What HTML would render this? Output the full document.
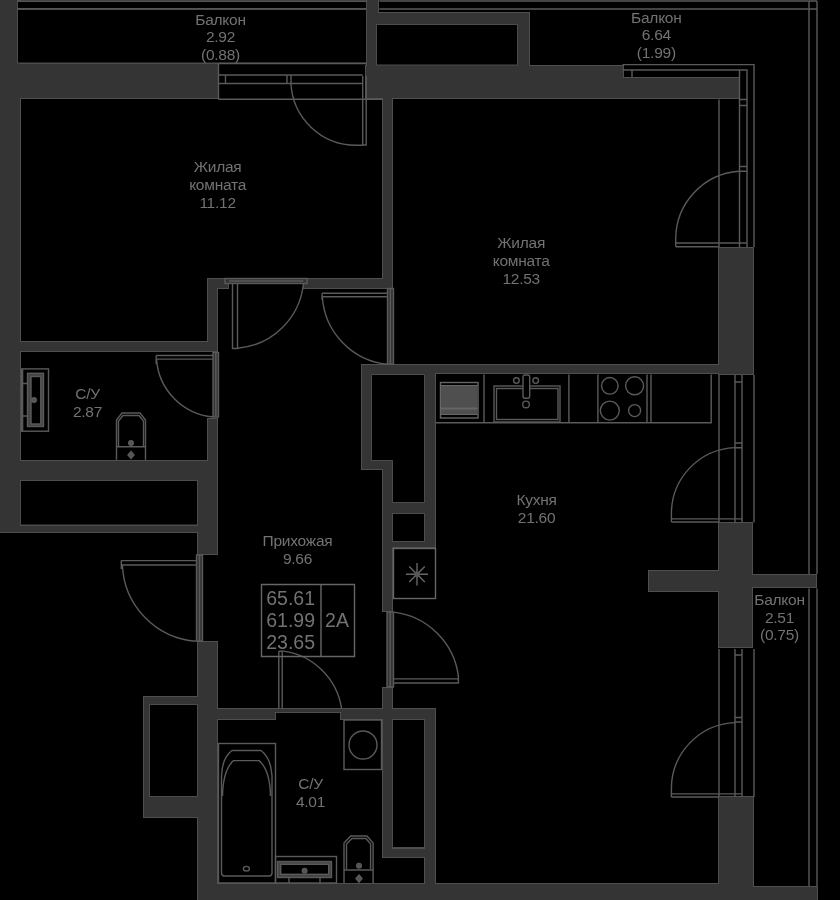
<!DOCTYPE html>
<html><head><meta charset="utf-8">
<style>
html,body{margin:0;padding:0;background:#000;width:840px;height:900px;overflow:hidden}
svg{display:block;will-change:transform}
text{font-family:"Liberation Sans",sans-serif;fill:#727272;font-size:15.5px;letter-spacing:-0.25px;text-anchor:middle}
text.big{font-size:19.5px;letter-spacing:0}
text.end{text-anchor:end}
.w{fill:#343434;stroke:#555;stroke-width:1}
.h{fill:#000;stroke:#4c4c4c;stroke-width:1}
.l{fill:none;stroke:#5a5a5a;stroke-width:1.4}
.lt{fill:none;stroke:#666;stroke-width:1}
</style></head><body>
<svg width="840" height="900" viewBox="0 0 840 900">
<rect x="0" y="0" width="840" height="900" fill="#000"/>
<defs>
<g id="walls">
<rect x="-4" y="-4" width="24" height="536"/>
<rect x="-4" y="64" width="222" height="34"/>
<rect x="367" y="-4" width="11" height="18"/>
<rect x="367" y="13" width="162" height="85"/>
<rect x="366" y="66" width="257" height="32"/>
<rect x="601" y="78" width="138" height="20"/>
<rect x="383" y="96" width="9" height="192"/>
<rect x="208" y="279" width="20" height="9"/>
<rect x="304" y="279" width="88" height="9"/>
<rect x="208" y="279" width="9" height="72"/>
<rect x="-4" y="342" width="221" height="9"/>
<rect x="208" y="419" width="9" height="63"/>
<rect x="-4" y="461" width="221" height="19"/>
<rect x="-4" y="526" width="221" height="6"/>
<rect x="198" y="480" width="19" height="74"/>
<rect x="198" y="642" width="19" height="262"/>
<rect x="198" y="884" width="521" height="20"/>
<rect x="719" y="797" width="34" height="107"/>
<rect x="741" y="887" width="76" height="17"/>
<rect x="144" y="697" width="54" height="120"/>
<rect x="719" y="248" width="34" height="126"/>
<rect x="362" y="365" width="357" height="8"/>
<rect x="362" y="365" width="73" height="104"/>
<rect x="383" y="365" width="52" height="182"/>
<rect x="383" y="547" width="9" height="64"/>
<rect x="719" y="523" width="33" height="124"/>
<rect x="649" y="571" width="70" height="20"/>
<rect x="752" y="575" width="64" height="12"/>
<rect x="217" y="709" width="58" height="10"/>
<rect x="275" y="709" width="66" height="3"/>
<rect x="341" y="709" width="94" height="10"/>
<rect x="383" y="688" width="9" height="169"/>
<rect x="383" y="849" width="52" height="8"/>
<rect x="425" y="709" width="10" height="175"/>
</g>
</defs>
<use href="#walls" fill="#4f4f4f" stroke="#4f4f4f" stroke-width="2"/>
<use href="#walls" fill="#343434"/>
<!-- HOLES -->
<g class="h">
<rect x="17.5" y="1.5" width="349" height="7"/>
<rect x="17.5" y="9" width="349" height="54"/>
<rect x="376.5" y="24.5" width="141" height="40.5"/>
<rect x="20.5" y="480.5" width="177" height="44.5"/>
<rect x="149.5" y="704.5" width="48" height="92"/>
<path d="M371.5 374.5H424.5V502.5H392.5V460.5H371.5Z"/>
<rect x="392.5" y="513.5" width="32" height="28"/>
<rect x="392.5" y="719.5" width="32" height="128"/>
</g>
<!-- LINES -->
<g class="l">
<!-- railings -->
<path d="M17 1H366.5M379.4 1H817M17 9H366.5M379.4 9H817M809 1V574M817 1V574M809 588.5V886M817 588.5V886"/>
<path d="M622.5 64.6H754V247M754 375V522.5M754 649V797M622.5 70H747V247M632 70V77M739.5 70V247M719 99.5V247M739.5 99.5H747M739.5 105.5H747M739.5 166.5H747M739.5 171.3H747"/>
<path d="M719 375V522M735 375V522M742 375V522M735 382H742M735 443H742M735 447.7H742"/>
<path d="M719 649V797M735 649V797M742 649V797M735 655H742M735 717.5H742M735 722H742"/>
<!-- window balcony 1 -->
<path d="M218.5 63.5H366.5M218.5 75H362.5M218.5 83.5H362.5M218.5 99.3H382.5M218.5 63.5V99.3M225.5 75V83.5M287 75V83.5M291 75V83.5"/>
</g>
<g class="l">
<!-- D1 balcony door -->
<path d="M362.7 75.8V145H366.2V75.8"/>
<path d="M290.9 83A65.2 65.2 0 0 0 356 145.2H362.7"/>
<!-- frame strips -->
<g fill="#343434">
<rect x="225" y="278.5" width="82" height="5"/>
<rect x="387.5" y="288.5" width="6" height="75.5"/>
<rect x="213" y="352.5" width="5.5" height="64.5"/>
<rect x="196.5" y="555" width="6" height="86"/>
<rect x="387" y="612" width="6.5" height="75"/>
</g>
<path d="M229 281H303.4M390.4 289V364M215.8 353V417M199.5 555V641M390.2 612V687"/>
<!-- D2 room 11.12 -->
<path d="M232.5 283.7V348.5H237.5V283.7"/>
<path d="M303.4 284A72.3 72.3 0 0 1 237.5 348.2"/>
<!-- D3 room 12.53 -->
<path d="M322.1 293.2H387.4M322.1 296.7H387.4M322.1 293.2V300"/>
<path d="M322.3 296.7A72.5 72.5 0 0 0 387.4 364.2"/>
<!-- D4 bathroom 2.87 -->
<path d="M156.2 355.5H213.1M156.2 359.1H213.1M156.2 355.5V364"/>
<path d="M156.5 359.1A62.4 62.4 0 0 0 213.1 417"/>
<!-- D5 entrance -->
<path d="M121.3 560.6H196.3M121.3 565H196.3M121.3 560.6V569"/>
<path d="M122.4 565A79.6 79.6 0 0 0 196.3 641.3"/>
<!-- D6 bathroom 4.01 -->
<path d="M278.8 651.3H282.2M278.8 651.3V708.6M282.2 651.3V708.6"/>
<path d="M282.2 650.9A68.6 68.6 0 0 1 341.6 708.6"/>
<!-- D7 kitchen -->
<path d="M393.5 678.9H458.4M393.5 683H458.4V675"/>
<path d="M393.5 612.1A74 74 0 0 1 458.4 676.2"/>
<!-- D8 room 12.53 balcony -->
<path d="M675.7 243H747M675.7 246.8H719"/>
<path d="M675.7 246.8V239.2A68.1 68.1 0 0 1 739 171.3"/>
<!-- D9 kitchen balcony top -->
<path d="M671.4 518.9H742M671.4 522H719"/>
<path d="M671.4 522V513.8A66.2 66.2 0 0 1 735 447.6"/>
<!-- D10 kitchen balcony bottom -->
<path d="M671.4 793.9H742M671.4 797H719"/>
<path d="M671.4 797V788.8A66.2 66.2 0 0 1 735 722.6"/>
</g>
<!-- FIXTURES -->
<g class="l">
<!-- sink 2.87 -->
<rect x="21.5" y="368.9" width="27" height="62.3"/>
<path d="M22.6 369V431"/>
<rect x="27.5" y="373.3" width="16" height="53.2" fill="#444"/>
<rect x="31" y="376.5" width="9.8" height="47.5" fill="#000"/>
<circle cx="34" cy="400" r="2.3" fill="#555"/>
<path d="M22.6 383.5H27.5M22.6 416H27.5"/>
<!-- toilet 2.87 -->
<path d="M116.5 459.7V420L122 413H140L145.5 420V459.7M118.5 446V421L123 415.5H139L143.5 421V446M116.5 446.7H145.5"/>
<circle cx="131" cy="443" r="2.3" fill="#555"/>
<path d="M131 451.5L134 455L131 458.5L128 455Z" fill="#555"/>
<!-- kitchen counter -->
<path d="M435.5 422.7H711.2V374.5M484 374.5V422.7M568.9 374.5V422.7M597.9 374.5V422.7M647 374.5V422.7M651 374.5V422.7"/>
<!-- oven -->
<rect x="440.5" y="382.5" width="37.5" height="35.5" fill="#000" stroke="#666"/>
<rect x="441" y="385.5" width="36.5" height="29" fill="#4f4f4f" stroke="none"/>
<path d="M441 385.5H477.5M441 414.5H477.5" stroke="#666" stroke-width="1"/>
<path d="M441 408.5H477.5" stroke="#656565" stroke-width="2"/>
<!-- kitchen sink -->
<rect x="494" y="386" width="66" height="36" fill="#000"/>
<rect x="496.5" y="388.5" width="61.5" height="31" fill="none"/>
<rect x="523" y="375" width="6.7" height="23.3" rx="2" fill="#000"/>
<circle cx="516.4" cy="380.6" r="2.8"/>
<circle cx="535.7" cy="380.6" r="2.8"/>
<circle cx="526" cy="404.4" r="3.3"/>
<!-- cooktop -->
<circle cx="609.8" cy="385.8" r="8.3"/>
<circle cx="634.6" cy="385.8" r="9"/>
<circle cx="609.8" cy="410.6" r="9.5"/>
<circle cx="634.6" cy="410.6" r="6"/>
<!-- vent -->
<rect x="393.5" y="548.5" width="42" height="50" stroke="#666"/>
<path d="M417 563V585.5M406 574.2H428M409.2 566.4L424.8 582M409.2 582L424.8 566.4" stroke="#666"/>
<circle cx="417" cy="574.2" r="2" fill="#555"/>
<!-- info box -->
<path d="M261.5 584.5H354.5V656.5H261.5ZM321 584.5V656.5" stroke="#666"/>
<!-- washing machine -->
<rect x="344" y="720" width="37.5" height="49.5"/>
<circle cx="363" cy="745" r="14"/>
<!-- bathtub -->
<rect x="218.5" y="743.5" width="57" height="139.5"/>
<path d="M221.5 776V873Q221.5 876 224.5 876H269Q272 876 272 873V776Q271 758 261 750.5H232Q222 758 221.5 776"/>
<path d="M222.5 796Q223 770 233.6 760.6H259Q270 770 270.5 796"/>
<ellipse cx="246.4" cy="868.7" rx="3" ry="2.3"/>
<!-- sink 4.01 -->
<rect x="275.5" y="856.5" width="61" height="26.5"/>
<rect x="277.5" y="861.5" width="54" height="16" fill="#444"/>
<rect x="280.7" y="864.3" width="48" height="10" fill="#000"/>
<circle cx="304.6" cy="870.7" r="2.3" fill="#555"/>
<path d="M289 877.6V883M320 877.6V883"/>
<!-- toilet 4.01 -->
<path d="M344 883V843L350.7 836H367L373.1 843V883M346.5 869V844L352 838.5H366L370.6 844V869M344 870H373.1"/>
<circle cx="359" cy="865.7" r="2.3" fill="#555"/>
<path d="M359 875L362 878.6L359 882.2L356 878.6Z" fill="#555"/>
</g>
<!-- TEXT -->
<g>
<text x="220.5" y="24.5">Балкон</text><text x="220.5" y="42.2">2.92</text><text x="220.5" y="59.9">(0.88)</text>
<text x="656.3" y="22.9">Балкон</text><text x="656.3" y="40.4">6.64</text><text x="656.3" y="57.9">(1.99)</text>
<text x="217.6" y="172">Жилая</text><text x="217.6" y="189.9">комната</text><text x="217.6" y="207.7">11.12</text>
<text x="521.2" y="248.3">Жилая</text><text x="521.2" y="266">комната</text><text x="521.2" y="283.6">12.53</text>
<text x="87.5" y="398.6">С/У</text><text x="87.5" y="416.6">2.87</text>
<text x="297.5" y="545.8">Прихожая</text><text x="297.5" y="563.7">9.66</text>
<text x="536.6" y="505">Кухня</text><text x="536.6" y="522.6">21.60</text>
<text x="310.5" y="788.6">С/У</text><text x="310.5" y="806.8">4.01</text>
<text x="779.5" y="604.8">Балкон</text><text x="779.5" y="622.5">2.51</text><text x="779.5" y="640.2">(0.75)</text>
<text class="big end" x="315" y="604.9">65.61</text><text class="big end" x="315" y="626.5">61.99</text><text class="big end" x="315" y="648.6">23.65</text>
<text class="big" x="337" y="626.5">2А</text>
</g>
</svg>
</body></html>
